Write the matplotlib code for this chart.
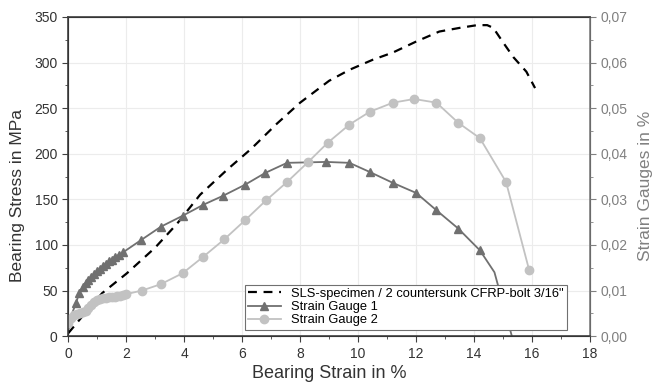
import matplotlib
matplotlib.use("Agg")
import matplotlib.pyplot as plt
from matplotlib.ticker import MultipleLocator, FuncFormatter

plt.rcParams['font.family'] = ['Liberation Sans', 'DejaVu Sans']

# Bearing stress curve (left axis)
sls_strain = [0.0, 0.5, 1.17, 2.03, 3.0, 3.75, 4.55, 5.5, 6.3, 7.2, 8.0, 9.0, 9.7,
              10.5, 11.2, 12.0, 12.8, 13.5, 14.1, 14.45, 14.66, 15.0, 15.35, 15.8, 16.1]
sls_stress = [3, 22, 47, 69, 97, 123, 155, 183, 205, 233, 256, 280, 292,
              303, 311, 323, 334, 338, 341, 341, 338, 322, 306, 290, 272]

# Strain gauges (right axis, in %)
g1_strain = [0.02, 0.15, 0.27, 0.38, 0.5, 0.6, 0.7, 0.8, 0.9, 1.0, 1.1, 1.2, 1.3, 1.4,
             1.5, 1.6, 1.75, 1.9, 2.5, 3.2, 3.95, 4.66, 5.35, 6.1, 6.8, 7.55, 8.9,
             9.7, 10.4, 11.2, 12.0, 12.7, 13.45, 14.2, 14.7, 15.3]
g1_value = [0.0016, 0.0052, 0.0072, 0.0094, 0.0108, 0.0116, 0.0124, 0.0130, 0.0136,
            0.0142, 0.0148, 0.0154, 0.0158, 0.0164, 0.0168, 0.0174, 0.0178, 0.0184,
            0.0210, 0.0240, 0.0264, 0.0288, 0.0308, 0.0332, 0.0358, 0.0380, 0.0382,
            0.0380, 0.0360, 0.0336, 0.0314, 0.0276, 0.0236, 0.0188, 0.0140, 0.0000]

g2_strain = [0.0, 0.1, 0.2, 0.3, 0.4, 0.5, 0.6, 0.7, 0.8, 0.9, 1.0, 1.1, 1.2, 1.3, 1.4,
             1.5, 1.6, 1.7, 1.8, 1.9, 2.0, 2.55, 3.2, 3.95, 4.66, 5.38, 6.1, 6.83, 7.55,
             8.28, 8.95, 9.7, 10.4, 11.2, 11.93, 12.7, 13.45, 14.2, 15.1, 15.9]
g2_value = [0.0028, 0.0040, 0.0046, 0.0048, 0.0050, 0.0052, 0.0056, 0.0062, 0.0068,
            0.0074, 0.0080, 0.0082, 0.0084, 0.0084, 0.0086, 0.0086, 0.0086, 0.0088,
            0.0088, 0.0090, 0.0092, 0.0100, 0.0114, 0.0138, 0.0174, 0.0212, 0.0254,
            0.0298, 0.0338, 0.0382, 0.0424, 0.0464, 0.0492, 0.0512, 0.0520, 0.0512,
            0.0468, 0.0434, 0.0338, 0.0144]

c_g1 = '#707070'
c_g2 = '#c2c2c2'
c_right = '#808080'

fig = plt.figure(figsize=(6.55, 3.85), dpi=100)
ax = fig.add_axes([0.104, 0.127, 0.797, 0.829])
ax2 = ax.twinx()

ax.grid(True, color='#ececec', linewidth=0.8)
ax.set_axisbelow(True)

l0, = ax.plot(sls_strain, sls_stress, color='black', linestyle=(0, (4, 3)), linewidth=1.6,
              label='SLS-specimen / 2 countersunk CFRP-bolt 3/16"', zorder=3)
l1, = ax2.plot(g1_strain, g1_value, color=c_g1, linewidth=1.3, marker='^', markersize=6,
               markevery=list(range(2, 34)), label='Strain Gauge 1')
l2, = ax2.plot(g2_strain, g2_value, color=c_g2, linewidth=1.3, marker='o', markersize=6,
               label='Strain Gauge 2')

ax.set_xlim(0, 18)
ax.set_ylim(0, 350)
ax2.set_ylim(0, 0.07)

ax.xaxis.set_major_locator(MultipleLocator(2))
ax.xaxis.set_minor_locator(MultipleLocator(1))
ax.yaxis.set_major_locator(MultipleLocator(50))
ax.yaxis.set_minor_locator(MultipleLocator(25))
ax2.yaxis.set_major_locator(MultipleLocator(0.01))
ax2.yaxis.set_minor_locator(MultipleLocator(0.005))
ax2.yaxis.set_major_formatter(FuncFormatter(lambda v, p: f"{v:.2f}".replace('.', ',')))

ax.tick_params(which='both', direction='out', labelsize=10, color='#404040', labelcolor='#333333')
ax.tick_params(which='major', length=4)
ax.tick_params(which='minor', length=2.5)
ax2.tick_params(which='both', direction='out', labelsize=10, color=c_right, labelcolor=c_right)
ax2.tick_params(which='major', length=4)
ax2.tick_params(which='minor', length=2.5)

for s in ['left', 'bottom', 'top']:
    ax2.spines[s].set_color('#404040')
    ax2.spines[s].set_linewidth(1.2)
ax2.spines['right'].set_color(c_right)
ax2.spines['right'].set_linewidth(1.2)

ax.set_xlabel('Bearing Strain in %', fontsize=13, color='#333333', labelpad=3)
ax.set_ylabel('Bearing Stress in MPa', fontsize=12.5, color='#333333', labelpad=3)
ax.yaxis.set_label_coords(-0.082, 0.44)
ax2.set_ylabel('Strain Gauges in %', fontsize=12.5, color=c_right, labelpad=6)
ax2.yaxis.set_label_coords(1.092, 0.47)

leg = ax2.legend(handles=[l0, l1, l2], loc='lower left', bbox_to_anchor=(0.339, 0.02),
                 fontsize=9.3, frameon=True, fancybox=False, framealpha=1, borderpad=0.25,
                 labelspacing=0.1, handlelength=2.5, borderaxespad=0)
leg.get_frame().set_edgecolor('#707070')
leg.get_frame().set_linewidth(0.8)

fig.savefig('out.png', dpi=100)
